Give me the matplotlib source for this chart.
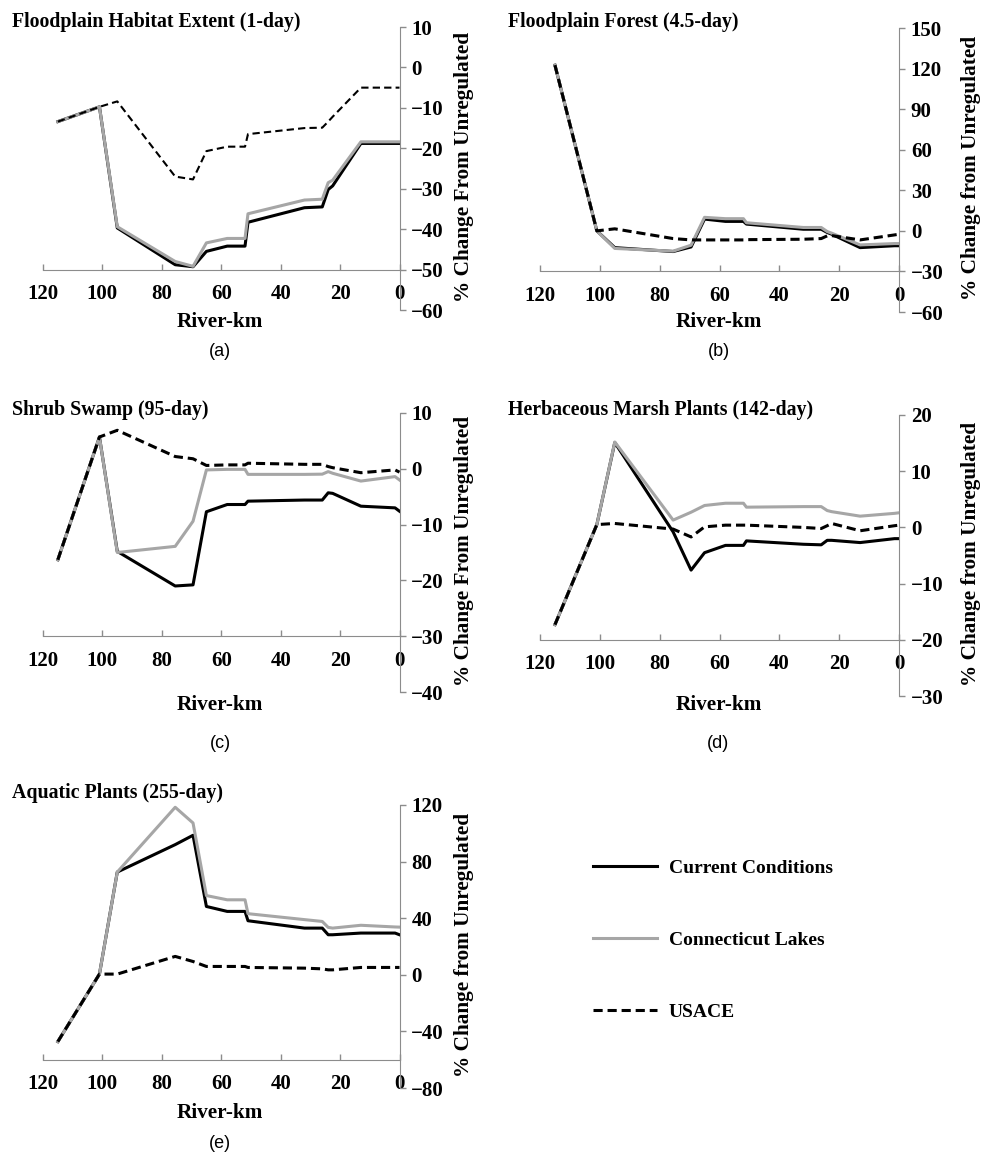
import matplotlib
matplotlib.use('Agg')
import matplotlib.pyplot as plt

plt.rcParams['font.family'] = ['Liberation Serif', 'DejaVu Serif']
plt.rcParams['font.weight'] = 'bold'

# river-km of the model nodes (upstream -> downstream)
river_km = [115, 101, 95, 75.5, 69.5, 65, 58, 52, 51, 32, 26, 24, 22.5, 13, 1.5, 0]

# (a) Floodplain Habitat Extent (1-day)
current_a = [-13.4, -9.75, -39.7, -48.8, -49.3, -45.5, -44.2, -44.2, -38.3, -34.7, -34.5, -30.2, -29.3, -18.8, -18.8, -18.8]
conn_a = [-13.4, -9.75, -39.4, -48.0, -49.2, -43.4, -42.3, -42.3, -36.2, -32.8, -32.6, -28.5, -27.9, -18.4, -18.4, -18.4]
usace_a = [-13.4, -9.75, -8.4, -27.0, -27.7, -20.7, -19.6, -19.6, -16.5, -15.0, -14.9, -13.4, -12.2, -5.0, -5.0, -5.0]

# (b) Floodplain Forest (4.5-day)
current_b = [122.5, 0, -12.4, -15.3, -11.9, 8.7, 7.0, 7.0, 5.0, 1.2, 1.2, -1.2, -2.5, -12.4, -11.0, -11.0]
conn_b = [122.5, 0, -13.0, -15.0, -10.6, 10.0, 9.0, 9.0, 6.0, 2.5, 2.5, -0.5, -1.7, -10.4, -9.4, -9.4]
usace_b = [122.5, 0, 1.5, -5.7, -6.7, -6.7, -6.7, -6.7, -6.5, -6.2, -5.7, -3.7, -3.5, -6.7, -3.0, -2.5]

# (c) Shrub Swamp (95-day)
current_c = [-16.3, 5.7, -14.8, -21.0, -20.8, -7.7, -6.4, -6.4, -5.8, -5.6, -5.6, -4.3, -4.4, -6.7, -7.0, -7.6]
conn_c = [-16.3, 5.7, -15.0, -13.9, -9.4, -0.2, -0.1, -0.1, -1.0, -1.0, -0.96, -0.5, -0.8, -2.2, -1.4, -2.0]
usace_c = [-16.3, 5.7, 6.9, 2.2, 1.8, 0.6, 0.7, 0.7, 1.0, 0.8, 0.8, 0.4, 0.2, -0.7, -0.2, -0.6]

# (d) Herbaceous Marsh Plants (142-day)
current_d = [-17.3, 0.5, 15.1, -0.8, -7.6, -4.5, -3.2, -3.2, -2.4, -3.0, -3.1, -2.3, -2.3, -2.7, -2.0, -2.0]
conn_d = [-17.3, 0.5, 15.2, 1.3, 2.7, 3.9, 4.3, 4.3, 3.6, 3.7, 3.7, 3.0, 2.8, 2.0, 2.5, 2.6]
usace_d = [-17.3, 0.5, 0.7, -0.3, -1.7, 0.1, 0.4, 0.4, 0.4, 0.0, -0.2, 0.3, 0.7, -0.6, 0.3, 0.4]

# (e) Aquatic Plants (255-day)
current_e = [-47.2, 0.5, 72.6, 92.0, 98.6, 48.3, 44.8, 44.8, 38.2, 33.0, 33.0, 28.3, 28.3, 29.5, 29.5, 28.3]
conn_e = [-47.2, 0.5, 72.6, 118.4, 107.3, 56.0, 53.0, 53.0, 43.2, 39.0, 37.7, 33.5, 33.0, 35.0, 33.8, 33.7]
usace_e = [-47.2, 0.5, 0.5, 13.0, 9.4, 5.9, 5.9, 5.9, 5.2, 4.7, 4.2, 3.5, 3.5, 5.2, 5.2, 5.2]

titles = ['Floodplain Habitat Extent (1-day)', 'Floodplain Forest (4.5-day)',
          'Shrub Swamp (95-day)', 'Herbaceous Marsh Plants (142-day)',
          'Aquatic Plants (255-day)']
ylabels = ['% Change From Unregulated', '% Change from Unregulated',
           '% Change From Unregulated', '% Change from Unregulated',
           '% Change from Unregulated']
letters = ['(a)', '(b)', '(c)', '(d)', '(e)']

W, H = 982, 1159
GRAY_AX = '#8c8c8c'
GRAY_LN = '#a6a6a6'

fig = plt.figure(figsize=(W / 100, H / 100), dpi=100)


def fx(x):
    return x / W


def fy(y):
    return 1 - y / H


# layout in pixels: left, right, top, bottom of each plot area
boxes = [(43, 399.5, 27, 310), (540, 899, 28, 312),
         (43, 399.5, 413, 692), (540, 899, 415, 696),
         (43, 399.5, 805, 1088)]
ylims = [(-60, 10), (-60, 150), (-40, 10), (-30, 20), (-80, 120)]
ysteps = [10, 30, 10, 10, 40]
xcross = [-50, -30, -30, -20, -60]
series = [(current_a, conn_a, usace_a), (current_b, conn_b, usace_b),
          (current_c, conn_c, usace_c), (current_d, conn_d, usace_d),
          (current_e, conn_e, usace_e)]
title_pos = [(12, 22), (508, 22), (12, 410), (508, 410), (12, 793)]
xlab_y = [322, 322, 705, 705, 1113]
letter_y = [352, 352, 743, 743, 1143]

handles = []
for i in range(5):
    l, r, t, b = boxes[i]
    ax = fig.add_axes([fx(l), fy(b), (r - l) / W, (b - t) / H])
    cur, con, usa = series[i]
    h1, = ax.plot(river_km, cur, color='black', lw=2.2, label='Current Conditions')
    h2, = ax.plot(river_km, con, color=GRAY_LN, lw=2.2, label='Connecticut Lakes')
    if i == 0:
        h3, = ax.plot(river_km, usa, color='black', lw=1.5, dashes=(3.5, 2), label='USACE')
    else:
        h3, = ax.plot(river_km, usa, color='black', lw=2.2, dashes=(3.0, 1.6), label='USACE')
    if i == 1:
        handles = [h1, h2, h3]

    lo, hi = ylims[i]
    ax.set_xlim(120, 0)
    ax.set_ylim(lo, hi)
    ax.set_xticks(range(0, 121, 20))
    ax.set_yticks(range(lo, hi + 1, ysteps[i]))
    ax.patch.set_visible(False)

    ax.spines['left'].set_visible(False)
    ax.spines['top'].set_visible(False)
    ax.spines['right'].set_color(GRAY_AX)
    ax.spines['bottom'].set_color(GRAY_AX)
    ax.spines['bottom'].set_position(('data', xcross[i]))
    ax.yaxis.tick_right()
    ax.tick_params(axis='y', direction='out', length=4.5, width=1, color=GRAY_AX,
                   pad=4, labelsize=15)
    ax.tick_params(axis='x', direction='in', length=4.5, width=1, color=GRAY_AX,
                   pad=10.5, labelsize=15)

    tx, ty = title_pos[i]
    fig.text(fx(tx), fy(ty), titles[i], fontsize=14.3, ha='left', va='center')
    cx = (l + r) / 2 - 1
    fig.text(fx(cx), fy(xlab_y[i]), 'River-km', fontsize=15.3,
             ha='center', va='center')
    fig.text(fx(cx), fy(letter_y[i]), letters[i], fontsize=13,
             family='Liberation Sans', weight='normal', ha='center', va='center')
    ylx = r + (64 if i % 2 == 0 else 72)
    fig.text(fx(ylx), fy((t + b) / 2 - 2), ylabels[i], fontsize=15.3, rotation=90,
             ha='center', va='center')

fig.legend(handles=handles, loc='center left', bbox_to_anchor=(fx(593), fy(940)),
           frameon=False, fontsize=14, handlelength=3.3, handletextpad=0.6,
           labelspacing=2.8, borderpad=0, borderaxespad=0)

fig.savefig('out.png', dpi=100)
